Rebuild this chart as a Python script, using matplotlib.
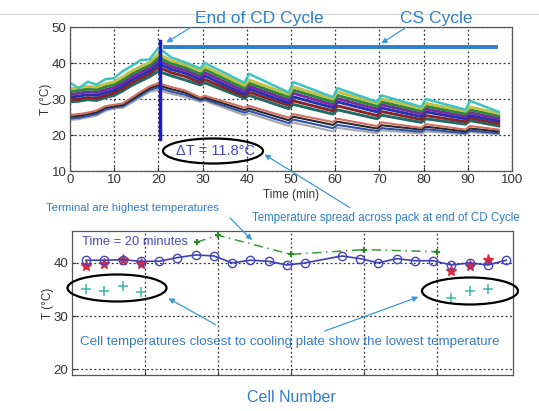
import matplotlib
matplotlib.use("Agg")
import matplotlib.pyplot as plt
import numpy as np
from matplotlib.lines import Line2D
from matplotlib.patches import Ellipse, FancyArrowPatch

plt.rcParams["font.family"] = ["Liberation Sans", "DejaVu Sans"]

W, H = 539, 411  # output size in pixels

# ---- top panel: cell temperature traces vs time ----
TIME_KNOTS = [0, 2, 4, 6, 8, 10, 12, 14, 16, 18, 20, 23, 26, 29.5, 30.5, 39.5, 40.5,
              49.5, 50.5, 59.5, 60.5, 69.5, 70.5, 79.5, 80.5, 89.5, 90.5, 97]

# hotter group of cells
upper_cyan = [34.5, 33, 34.8, 34, 35.5, 35.8, 37.8, 39.2, 40.8, 41, 44.2, 41.5, 40.2, 38.5, 40,
              34.5, 37, 31.8, 34.7, 30.5, 33, 29.2, 31, 27.8, 30, 27, 29.5, 26.4]
upper_olive = [32.8, 33.2, 33.5, 33.3, 34.2, 34.8, 36.2, 37.8, 39, 40.2, 42.5, 40.6, 39.6, 37.8, 39,
               33.8, 35.3, 31.3, 33.4, 30, 32, 28.8, 30, 27.4, 28.8, 26.6, 27.8, 26]
upper_green = [32, 32.4, 32.8, 32.6, 33.4, 34, 35.4, 37, 38.2, 39.4, 41.6, 39.8, 38.8, 37, 38.2,
               33, 34.4, 30.5, 32.5, 29.2, 31, 28, 29.2, 26.6, 28, 25.9, 27, 25.3]
upper_purple = [31.2, 31.6, 32, 31.8, 32.6, 33.2, 34.6, 36.2, 37.4, 38.6, 40.7, 39, 38, 36.2, 37.3,
                32.2, 33.6, 29.7, 31.6, 28.4, 30.1, 27.2, 28.4, 25.9, 27.2, 25.2, 26.2, 24.6]
upper_blue = [30.5, 30.8, 31.2, 31, 31.8, 32.4, 33.8, 35.4, 36.6, 37.8, 39.8, 38.2, 37.2, 35.4, 36.4,
              31.4, 32.8, 28.9, 30.6, 27.6, 29.2, 26.4, 27.5, 25.1, 26.4, 24.5, 25.4, 23.9]
upper_red = [29.8, 30, 30.4, 30.2, 31, 31.7, 33, 34.6, 35.8, 37, 38.8, 37.3, 36.3, 34.6, 35.4,
             30.8, 31.9, 28.2, 29.5, 26.7, 28.1, 25.4, 26.5, 24.3, 25.4, 23.7, 24.7, 23.2]
upper_teal = [29.2, 29.4, 29.8, 29.6, 30.4, 31, 32.3, 33.8, 35, 36.2, 37.7, 36.4, 35.3, 33.9, 34.5,
              30.2, 31, 27.3, 28.5, 25.8, 27, 24.5, 25.5, 23.5, 24.5, 23, 24, 22.5]

# cooler group (cells near the cooling plate)
lower_salmon = [25.6, 25.8, 26.2, 26.8, 28, 28.4, 28.8, 30.4, 32, 33.5, 34.4, 33.3, 32.4, 30.4, 30.9,
                27.6, 28.1, 24.8, 25.8, 23.6, 24.5, 22.5, 23.5, 22, 23, 21.5, 22.5, 21.5]
lower_black = [25.1, 25.3, 25.8, 26.3, 27.6, 28, 28.4, 30, 31.5, 33, 33.8, 32.7, 31.8, 30, 30.4,
               26.9, 27.4, 24.1, 25.1, 22.8, 23.7, 21.8, 22.7, 21.5, 22.3, 21, 21.8, 21]
lower_blue = [24.6, 24.8, 25.3, 25.8, 27.1, 27.7, 28, 29.5, 31, 32.5, 33.2, 32, 31.2, 29.6, 29.9,
              26.2, 26.7, 23.3, 24.3, 21.9, 22.8, 21.1, 21.9, 20.9, 21.6, 20.5, 21.2, 20.5]
lower_gray = [24.2, 24.4, 24.9, 25.4, 26.7, 27.4, 27.6, 29, 30.5, 32, 32.5, 31.4, 30.6, 29.2, 29.5,
              25.5, 26, 22.5, 23.5, 21, 22, 20.5, 21.3, 20.4, 21, 20.2, 20.8, 20.2]

END_CD_TIME = 20.4          # vertical marker, end of CD cycle
END_CD_SPAN = [18.9, 46.1]
CS_LEVEL = 44.4             # horizontal CS cycle bar
CS_SPAN = [21.5, 96.4]

# ---- bottom panel: cell temperatures at t = 20 min ----
CELL_NUM = [1, 2, 3, 4, 5, 6, 7, 8, 9, 10, 11, 12, 13, 15, 16, 17, 18, 19, 20, 21, 22, 23, 24]
CELL_T = [40.5, 40.5, 40.6, 40.3, 40.3, 41.0, 41.5, 41.3, 40.0, 40.5, 40.3, 39.6, 40.0,
          41.3, 40.8, 40.0, 40.8, 40.4, 40.4, 39.6, 40.0, 39.6, 40.5]
END_CELLS = [1, 2, 3, 4, 21, 22, 23]
END_CELLS_RED = [39.4, 39.8, 40.6, 39.7, 38.5, 39.4, 40.6]
END_CELLS_PLATE = [35.1, 34.8, 35.6, 34.5, 33.4, 34.8, 35.1]
TERMINAL_X = [7.06, 8.22, 12.22, 16.22, 20.22]
TERMINAL_T = [43.9, 45.2, 41.6, 42.5, 42.1]

LINK = "#2f7fc6"
ARROW = "#3a9ad9"


def fpx(x, y):
    # pixel position (from top-left) -> figure fraction
    return (x / W, 1 - y / H)


def arrow(fig, start, end):
    fig.add_artist(FancyArrowPatch(fpx(*start), fpx(*end), transform=fig.transFigure,
                                   arrowstyle="-|>", mutation_scale=8, color=ARROW, lw=0.9))


def ellipse(fig, cx, cy, w, h):
    fig.add_artist(Ellipse(fpx(cx, cy), w / W, h / H, transform=fig.transFigure,
                           fill=False, ec="black", lw=1.6))


def style_axes(ax):
    ax.grid(True, linestyle=(0, (1.5, 2)), color="#333333", lw=0.9)
    ax.tick_params(direction="in", length=3, labelsize=9.5, colors="#333333", pad=2.5)
    for s in ax.spines.values():
        s.set_color("#555555")
        s.set_linewidth(0.9)


fig = plt.figure(figsize=(W / 100, H / 100), dpi=100)
fig.add_artist(Line2D([0, 1], [1 - 14 / H] * 2, color="#d6d6d6", lw=0.8))

# top panel
ax1 = fig.add_axes([70 / W, 1 - 171 / H, 442 / W, 144 / H])
traces = [
    (lower_gray, "#a8a8a8", 1.5), (lower_blue, "#3050b0", 1.5),
    (lower_black, "#2a2a2a", 1.5), (lower_salmon, "#d0705e", 1.5),
    (upper_teal, "#1f6a66", 2.1), (upper_red, "#8a2424", 2.1),
    (upper_blue, "#2232b4", 2.1), (upper_purple, "#7a2aa0", 2.1),
    (upper_green, "#2a8a3a", 2.1), (upper_olive, "#c3c046", 2.1),
    (upper_cyan, "#3cc3c3", 1.8),
]
for vals, col, lw in traces:
    ax1.plot(TIME_KNOTS, vals, color=col, lw=lw)
ax1.plot([END_CD_TIME] * 2, END_CD_SPAN, color="#1a1ad0", lw=2.5, clip_on=False, zorder=5)
ax1.plot(CS_SPAN, [CS_LEVEL] * 2, color="#2f7fc6", lw=2.8, zorder=5)
ax1.set_xlim(0, 100)
ax1.set_ylim(10, 50)
ax1.set_xticks(np.arange(0, 101, 10))
ax1.set_yticks(np.arange(10, 51, 10))
style_axes(ax1)
ax1.set_xlabel("Time (min)", fontsize=8.5, color="#333333", labelpad=2)
ax1.set_ylabel("T (°C)", fontsize=8.5, color="#333333", labelpad=0)

# bottom panel
ax2 = fig.add_axes([72 / W, 1 - 375 / H, 441 / W, 144 / H])
ax2.plot(TERMINAL_X, TERMINAL_T, color="#3a9a3a", lw=1.1, linestyle=(0, (6, 3, 1, 3)),
         marker="+", markersize=5, mew=1.5, markeredgecolor="#2a8a2a")
ax2.plot(END_CELLS, END_CELLS_RED, linestyle="none", marker="*", markersize=8,
         color="#e02a3a")
ax2.plot(CELL_NUM, CELL_T, color="#3e3eb4", lw=1.2, marker="o", markersize=6,
         markerfacecolor="none", markeredgecolor="#4646c0", mew=1.0)
ax2.plot(END_CELLS, END_CELLS_PLATE, linestyle="none", marker="+", markersize=7,
         mew=1.1, color="#3cb8a4")
ax2.set_xlim(0.234, 24.37)
ax2.set_ylim(18.9, 46)
ax2.set_xticks(np.arange(4, 21, 4) + 0.22)
ax2.set_xticklabels([])
ax2.set_yticks([20, 30, 40])
style_axes(ax2)
ax2.set_ylabel("T (°C)", fontsize=8.5, color="#333333", labelpad=0)

# annotations
fig.text(*fpx(259, 19), "End of CD Cycle", fontsize=12.5, color=LINK, ha="center", va="center")
fig.text(*fpx(436, 19), "CS Cycle", fontsize=12.5, color=LINK, ha="center", va="center")
arrow(fig, (193, 26), (164, 44))
arrow(fig, (408, 26), (379, 45))

ellipse(fig, 213, 151, 100, 25)
fig.text(*fpx(216, 151), "ΔT = 11.8°C", fontsize=10.5, color="#4646c4", ha="center", va="center")
arrow(fig, (352, 209), (262, 153))
fig.text(*fpx(252, 218), "Temperature spread across pack at end of CD Cycle", fontsize=8.3,
         color=LINK, ha="left", va="center")

fig.text(*fpx(46, 208), "Terminal are highest temperatures", fontsize=8.2, color=LINK,
         ha="left", va="center")
arrow(fig, (228, 216), (254, 242))

fig.text(*fpx(82, 242), "Time = 20 minutes", fontsize=9.3, color="#4a4ab8", ha="left",
         va="center")
ellipse(fig, 117, 288, 99, 27)
ellipse(fig, 470, 291, 96, 27)
arrow(fig, (218, 326), (166, 297))
arrow(fig, (322, 332), (421, 296))
fig.text(*fpx(80, 342), "Cell temperatures closest to cooling plate show the lowest temperature",
         fontsize=9.6, color="#3a7cc0", ha="left", va="center")
fig.text(*fpx(291, 397), "Cell Number", fontsize=11.5, color=LINK, ha="center", va="center")

fig.savefig("out.png", dpi=100)
